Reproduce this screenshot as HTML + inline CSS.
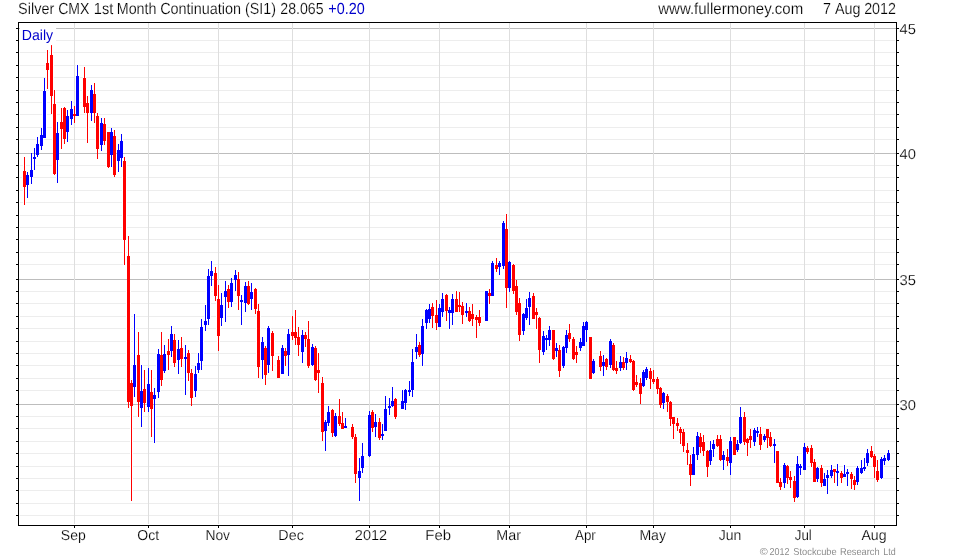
<!DOCTYPE html>
<html lang="en">
<head>
<meta charset="utf-8">
<title>Silver CMX 1st Month Continuation (SI1)</title>
<style>
html,body{margin:0;padding:0;background:#fff;}
body{width:980px;height:560px;position:relative;overflow:hidden;font-family:"Liberation Sans",Arial,sans-serif;color:#000;}
#chart{position:absolute;left:0;top:0;width:980px;height:560px;}
#labels{position:absolute;left:0;top:0;width:980px;height:560px;}
</style>
</head>
<body>
<svg id="chart" width="980" height="560" viewBox="0 0 980 560" shape-rendering="crispEdges">
<rect x="0" y="0" width="980" height="560" fill="#ffffff"/>
<g id="hgrid" fill="#ededed">
<rect x="20" y="40" width="875" height="1"/>
<rect x="20" y="52" width="875" height="1"/>
<rect x="20" y="65" width="875" height="1"/>
<rect x="20" y="77" width="875" height="1"/>
<rect x="20" y="90" width="875" height="1"/>
<rect x="20" y="102" width="875" height="1"/>
<rect x="20" y="114" width="875" height="1"/>
<rect x="20" y="127" width="875" height="1"/>
<rect x="20" y="139" width="875" height="1"/>
<rect x="20" y="165" width="875" height="1"/>
<rect x="20" y="177" width="875" height="1"/>
<rect x="20" y="190" width="875" height="1"/>
<rect x="20" y="202" width="875" height="1"/>
<rect x="20" y="215" width="875" height="1"/>
<rect x="20" y="227" width="875" height="1"/>
<rect x="20" y="239" width="875" height="1"/>
<rect x="20" y="252" width="875" height="1"/>
<rect x="20" y="264" width="875" height="1"/>
<rect x="20" y="291" width="875" height="1"/>
<rect x="20" y="303" width="875" height="1"/>
<rect x="20" y="316" width="875" height="1"/>
<rect x="20" y="328" width="875" height="1"/>
<rect x="20" y="341" width="875" height="1"/>
<rect x="20" y="353" width="875" height="1"/>
<rect x="20" y="365" width="875" height="1"/>
<rect x="20" y="378" width="875" height="1"/>
<rect x="20" y="390" width="875" height="1"/>
<rect x="20" y="416" width="875" height="1"/>
<rect x="20" y="428" width="875" height="1"/>
<rect x="20" y="441" width="875" height="1"/>
<rect x="20" y="453" width="875" height="1"/>
<rect x="20" y="466" width="875" height="1"/>
<rect x="20" y="478" width="875" height="1"/>
<rect x="20" y="490" width="875" height="1"/>
<rect x="20" y="503" width="875" height="1"/>
<rect x="20" y="515" width="875" height="1"/>
</g>
<g id="candles">
<g id="halo" fill="#ffffff">
<rect x="23" y="157" width="3" height="48"/><rect x="22" y="171" width="5" height="16"/>
<rect x="26" y="172" width="3" height="26"/><rect x="25" y="175" width="5" height="10"/>
<rect x="30" y="153" width="3" height="31"/><rect x="29" y="170" width="5" height="7"/>
<rect x="33" y="148" width="3" height="22"/><rect x="32" y="157" width="5" height="2"/>
<rect x="36" y="137" width="3" height="20"/><rect x="35" y="144" width="5" height="11"/>
<rect x="40" y="128" width="3" height="22"/><rect x="39" y="135" width="5" height="11"/>
<rect x="43" y="78" width="3" height="60"/><rect x="42" y="91" width="5" height="47"/>
<rect x="46" y="50" width="3" height="39"/><rect x="45" y="63" width="5" height="7"/>
<rect x="50" y="45" width="3" height="69"/><rect x="49" y="55" width="5" height="41"/>
<rect x="53" y="90" width="3" height="85"/><rect x="52" y="104" width="5" height="70"/>
<rect x="56" y="122" width="3" height="61"/><rect x="55" y="133" width="5" height="27"/>
<rect x="60" y="108" width="3" height="41"/><rect x="59" y="122" width="5" height="7"/>
<rect x="63" y="107" width="3" height="37"/><rect x="62" y="108" width="5" height="31"/>
<rect x="66" y="110" width="3" height="32"/><rect x="65" y="116" width="5" height="16"/>
<rect x="70" y="101" width="3" height="24"/><rect x="69" y="109" width="5" height="10"/>
<rect x="73" y="106" width="3" height="17"/><rect x="72" y="114" width="5" height="2"/>
<rect x="76" y="65" width="3" height="51"/><rect x="75" y="76" width="5" height="40"/>
<rect x="83" y="67" width="3" height="46"/><rect x="82" y="78" width="5" height="29"/>
<rect x="86" y="96" width="3" height="47"/><rect x="85" y="103" width="5" height="10"/>
<rect x="90" y="85" width="3" height="36"/><rect x="89" y="90" width="5" height="23"/>
<rect x="93" y="83" width="3" height="40"/><rect x="92" y="94" width="5" height="19"/>
<rect x="96" y="113" width="3" height="46"/><rect x="95" y="116" width="5" height="33"/>
<rect x="100" y="118" width="3" height="33"/><rect x="99" y="123" width="5" height="22"/>
<rect x="103" y="118" width="3" height="27"/><rect x="102" y="124" width="5" height="17"/>
<rect x="107" y="132" width="3" height="36"/><rect x="106" y="132" width="5" height="35"/>
<rect x="110" y="128" width="3" height="39"/><rect x="109" y="132" width="5" height="23"/>
<rect x="113" y="130" width="3" height="47"/><rect x="112" y="136" width="5" height="39"/>
<rect x="117" y="144" width="3" height="28"/><rect x="116" y="150" width="5" height="11"/>
<rect x="120" y="134" width="3" height="33"/><rect x="119" y="141" width="5" height="17"/>
<rect x="123" y="157" width="3" height="108"/><rect x="122" y="161" width="5" height="79"/>
<rect x="127" y="236" width="3" height="172"/><rect x="126" y="256" width="5" height="146"/>
<rect x="130" y="380" width="3" height="121"/><rect x="129" y="383" width="5" height="23"/>
<rect x="133" y="314" width="3" height="83"/><rect x="132" y="365" width="5" height="22"/>
<rect x="137" y="332" width="3" height="85"/><rect x="136" y="355" width="5" height="47"/>
<rect x="140" y="365" width="3" height="62"/><rect x="139" y="391" width="5" height="17"/>
<rect x="143" y="370" width="3" height="42"/><rect x="142" y="389" width="5" height="14"/>
<rect x="147" y="368" width="3" height="44"/><rect x="146" y="384" width="5" height="23"/>
<rect x="150" y="370" width="3" height="67"/><rect x="149" y="392" width="5" height="17"/>
<rect x="153" y="388" width="3" height="55"/><rect x="152" y="395" width="5" height="4"/>
<rect x="157" y="349" width="3" height="49"/><rect x="156" y="354" width="5" height="38"/>
<rect x="160" y="332" width="3" height="54"/><rect x="159" y="355" width="5" height="25"/>
<rect x="163" y="345" width="3" height="28"/><rect x="162" y="354" width="5" height="17"/>
<rect x="167" y="339" width="3" height="31"/><rect x="166" y="351" width="5" height="4"/>
<rect x="170" y="326" width="3" height="31"/><rect x="169" y="334" width="5" height="17"/>
<rect x="173" y="334" width="3" height="33"/><rect x="172" y="340" width="5" height="23"/>
<rect x="177" y="340" width="3" height="34"/><rect x="176" y="349" width="5" height="11"/>
<rect x="180" y="337" width="3" height="30"/><rect x="179" y="348" width="5" height="11"/>
<rect x="184" y="345" width="3" height="50"/><rect x="183" y="357" width="5" height="2"/>
<rect x="187" y="350" width="3" height="31"/><rect x="186" y="353" width="5" height="20"/>
<rect x="190" y="369" width="3" height="37"/><rect x="189" y="373" width="5" height="25"/>
<rect x="194" y="366" width="3" height="31"/><rect x="193" y="374" width="5" height="17"/>
<rect x="197" y="353" width="3" height="20"/><rect x="196" y="363" width="5" height="7"/>
<rect x="200" y="319" width="3" height="51"/><rect x="199" y="327" width="5" height="34"/>
<rect x="204" y="305" width="3" height="26"/><rect x="203" y="321" width="5" height="4"/>
<rect x="207" y="269" width="3" height="56"/><rect x="206" y="276" width="5" height="43"/>
<rect x="210" y="261" width="3" height="25"/><rect x="209" y="271" width="5" height="5"/>
<rect x="214" y="267" width="3" height="34"/><rect x="213" y="273" width="5" height="23"/>
<rect x="217" y="285" width="3" height="66"/><rect x="216" y="299" width="5" height="37"/>
<rect x="220" y="293" width="3" height="33"/><rect x="219" y="305" width="5" height="13"/>
<rect x="224" y="281" width="3" height="41"/><rect x="223" y="291" width="5" height="6"/>
<rect x="227" y="285" width="3" height="23"/><rect x="226" y="289" width="5" height="13"/>
<rect x="230" y="278" width="3" height="29"/><rect x="229" y="283" width="5" height="19"/>
<rect x="234" y="270" width="3" height="21"/><rect x="233" y="275" width="5" height="5"/>
<rect x="237" y="272" width="3" height="38"/><rect x="236" y="279" width="5" height="17"/>
<rect x="240" y="295" width="3" height="30"/><rect x="239" y="300" width="5" height="2"/>
<rect x="244" y="282" width="3" height="30"/><rect x="243" y="286" width="5" height="17"/>
<rect x="247" y="281" width="3" height="24"/><rect x="246" y="286" width="5" height="18"/>
<rect x="250" y="283" width="3" height="27"/><rect x="249" y="292" width="5" height="7"/>
<rect x="254" y="288" width="3" height="26"/><rect x="253" y="289" width="5" height="20"/>
<rect x="257" y="304" width="3" height="74"/><rect x="256" y="311" width="5" height="56"/>
<rect x="261" y="337" width="3" height="42"/><rect x="260" y="342" width="5" height="18"/>
<rect x="264" y="346" width="3" height="39"/><rect x="263" y="348" width="5" height="27"/>
<rect x="267" y="326" width="3" height="47"/><rect x="266" y="328" width="5" height="37"/>
<rect x="271" y="331" width="3" height="40"/><rect x="270" y="333" width="5" height="23"/>
<rect x="277" y="356" width="3" height="22"/><rect x="276" y="360" width="5" height="18"/>
<rect x="281" y="345" width="3" height="29"/><rect x="280" y="348" width="5" height="26"/>
<rect x="284" y="348" width="3" height="18"/><rect x="283" y="351" width="5" height="5"/>
<rect x="287" y="329" width="3" height="47"/><rect x="286" y="334" width="5" height="21"/>
<rect x="291" y="316" width="3" height="24"/><rect x="290" y="332" width="5" height="4"/>
<rect x="294" y="310" width="3" height="35"/><rect x="293" y="332" width="5" height="6"/>
<rect x="297" y="327" width="3" height="29"/><rect x="296" y="337" width="5" height="8"/>
<rect x="301" y="330" width="3" height="33"/><rect x="300" y="335" width="5" height="17"/>
<rect x="304" y="332" width="3" height="15"/><rect x="303" y="335" width="5" height="4"/>
<rect x="307" y="321" width="3" height="47"/><rect x="306" y="339" width="5" height="27"/>
<rect x="311" y="344" width="3" height="22"/><rect x="310" y="347" width="5" height="18"/>
<rect x="314" y="346" width="3" height="35"/><rect x="313" y="348" width="5" height="32"/>
<rect x="317" y="353" width="3" height="40"/><rect x="316" y="370" width="5" height="3"/>
<rect x="321" y="377" width="3" height="64"/><rect x="320" y="383" width="5" height="49"/>
<rect x="324" y="420" width="3" height="31"/><rect x="323" y="422" width="5" height="9"/>
<rect x="327" y="406" width="3" height="20"/><rect x="326" y="412" width="5" height="11"/>
<rect x="331" y="409" width="3" height="28"/><rect x="330" y="410" width="5" height="23"/>
<rect x="334" y="413" width="3" height="24"/><rect x="333" y="416" width="5" height="20"/>
<rect x="338" y="399" width="3" height="27"/><rect x="337" y="416" width="5" height="8"/>
<rect x="341" y="412" width="3" height="17"/><rect x="340" y="423" width="5" height="6"/>
<rect x="344" y="418" width="3" height="10"/><rect x="343" y="426" width="5" height="2"/>
<rect x="351" y="424" width="3" height="15"/><rect x="350" y="427" width="5" height="10"/>
<rect x="354" y="434" width="3" height="49"/><rect x="353" y="437" width="5" height="37"/>
<rect x="358" y="458" width="3" height="43"/><rect x="357" y="471" width="5" height="7"/>
<rect x="361" y="443" width="3" height="30"/><rect x="360" y="456" width="5" height="12"/>
<rect x="368" y="411" width="3" height="46"/><rect x="367" y="415" width="5" height="41"/>
<rect x="371" y="410" width="3" height="22"/><rect x="370" y="412" width="5" height="16"/>
<rect x="374" y="414" width="3" height="23"/><rect x="373" y="422" width="5" height="5"/>
<rect x="378" y="418" width="3" height="22"/><rect x="377" y="422" width="5" height="16"/>
<rect x="381" y="424" width="3" height="16"/><rect x="380" y="434" width="5" height="2"/>
<rect x="384" y="396" width="3" height="35"/><rect x="383" y="409" width="5" height="22"/>
<rect x="388" y="398" width="3" height="17"/><rect x="387" y="406" width="5" height="2"/>
<rect x="391" y="387" width="3" height="20"/><rect x="390" y="401" width="5" height="5"/>
<rect x="394" y="398" width="3" height="21"/><rect x="393" y="399" width="5" height="18"/>
<rect x="401" y="390" width="3" height="19"/><rect x="400" y="401" width="5" height="8"/>
<rect x="404" y="389" width="3" height="21"/><rect x="403" y="390" width="5" height="13"/>
<rect x="408" y="381" width="3" height="15"/><rect x="407" y="390" width="5" height="2"/>
<rect x="411" y="349" width="3" height="48"/><rect x="410" y="362" width="5" height="28"/>
<rect x="415" y="334" width="3" height="25"/><rect x="414" y="347" width="5" height="5"/>
<rect x="418" y="342" width="3" height="15"/><rect x="417" y="345" width="5" height="10"/>
<rect x="421" y="319" width="3" height="47"/><rect x="420" y="326" width="5" height="28"/>
<rect x="425" y="309" width="3" height="20"/><rect x="424" y="310" width="5" height="13"/>
<rect x="428" y="304" width="3" height="19"/><rect x="427" y="309" width="5" height="10"/>
<rect x="431" y="303" width="3" height="25"/><rect x="430" y="307" width="5" height="9"/>
<rect x="435" y="300" width="3" height="30"/><rect x="434" y="315" width="5" height="8"/>
<rect x="438" y="304" width="3" height="23"/><rect x="437" y="308" width="5" height="19"/>
<rect x="441" y="293" width="3" height="24"/><rect x="440" y="299" width="5" height="13"/>
<rect x="445" y="294" width="3" height="27"/><rect x="444" y="295" width="5" height="16"/>
<rect x="448" y="307" width="3" height="22"/><rect x="447" y="310" width="5" height="3"/>
<rect x="451" y="294" width="3" height="31"/><rect x="450" y="299" width="5" height="14"/>
<rect x="455" y="291" width="3" height="21"/><rect x="454" y="299" width="5" height="13"/>
<rect x="458" y="292" width="3" height="20"/><rect x="457" y="305" width="5" height="2"/>
<rect x="461" y="302" width="3" height="22"/><rect x="460" y="306" width="5" height="9"/>
<rect x="465" y="303" width="3" height="14"/><rect x="464" y="311" width="5" height="2"/>
<rect x="468" y="307" width="3" height="15"/><rect x="467" y="311" width="5" height="10"/>
<rect x="471" y="304" width="3" height="22"/><rect x="470" y="314" width="5" height="5"/>
<rect x="475" y="315" width="3" height="23"/><rect x="474" y="317" width="5" height="3"/>
<rect x="478" y="310" width="3" height="16"/><rect x="477" y="317" width="5" height="6"/>
<rect x="485" y="291" width="3" height="30"/><rect x="484" y="291" width="5" height="30"/>
<rect x="488" y="289" width="3" height="15"/><rect x="487" y="293" width="5" height="3"/>
<rect x="491" y="261" width="3" height="35"/><rect x="490" y="263" width="5" height="33"/>
<rect x="495" y="258" width="3" height="14"/><rect x="494" y="265" width="5" height="4"/>
<rect x="498" y="261" width="3" height="14"/><rect x="497" y="263" width="5" height="4"/>
<rect x="502" y="221" width="3" height="48"/><rect x="501" y="223" width="5" height="43"/>
<rect x="505" y="214" width="3" height="94"/><rect x="504" y="229" width="5" height="59"/>
<rect x="508" y="261" width="3" height="31"/><rect x="507" y="262" width="5" height="26"/>
<rect x="512" y="264" width="3" height="30"/><rect x="511" y="265" width="5" height="26"/>
<rect x="515" y="280" width="3" height="35"/><rect x="514" y="286" width="5" height="26"/>
<rect x="518" y="298" width="3" height="43"/><rect x="517" y="303" width="5" height="32"/>
<rect x="522" y="313" width="3" height="22"/><rect x="521" y="314" width="5" height="17"/>
<rect x="525" y="299" width="3" height="21"/><rect x="524" y="308" width="5" height="10"/>
<rect x="528" y="292" width="3" height="33"/><rect x="527" y="298" width="5" height="9"/>
<rect x="532" y="293" width="3" height="26"/><rect x="531" y="296" width="5" height="23"/>
<rect x="535" y="308" width="3" height="21"/><rect x="534" y="312" width="5" height="3"/>
<rect x="538" y="317" width="3" height="46"/><rect x="537" y="318" width="5" height="32"/>
<rect x="542" y="331" width="3" height="24"/><rect x="541" y="336" width="5" height="16"/>
<rect x="545" y="335" width="3" height="15"/><rect x="544" y="338" width="5" height="2"/>
<rect x="548" y="326" width="3" height="20"/><rect x="547" y="330" width="5" height="10"/>
<rect x="552" y="330" width="3" height="30"/><rect x="551" y="330" width="5" height="29"/>
<rect x="555" y="343" width="3" height="14"/><rect x="554" y="348" width="5" height="3"/>
<rect x="558" y="345" width="3" height="32"/><rect x="557" y="350" width="5" height="21"/>
<rect x="562" y="346" width="3" height="22"/><rect x="561" y="347" width="5" height="19"/>
<rect x="565" y="330" width="3" height="23"/><rect x="564" y="335" width="5" height="13"/>
<rect x="568" y="324" width="3" height="18"/><rect x="567" y="333" width="5" height="6"/>
<rect x="572" y="337" width="3" height="23"/><rect x="571" y="339" width="5" height="20"/>
<rect x="575" y="346" width="3" height="17"/><rect x="574" y="352" width="5" height="3"/>
<rect x="579" y="338" width="3" height="13"/><rect x="578" y="342" width="5" height="6"/>
<rect x="582" y="322" width="3" height="24"/><rect x="581" y="326" width="5" height="20"/>
<rect x="585" y="321" width="3" height="21"/><rect x="584" y="322" width="5" height="8"/>
<rect x="589" y="337" width="3" height="42"/><rect x="588" y="337" width="5" height="42"/>
<rect x="592" y="359" width="3" height="15"/><rect x="591" y="361" width="5" height="12"/>
<rect x="599" y="351" width="3" height="20"/><rect x="598" y="356" width="5" height="11"/>
<rect x="602" y="355" width="3" height="21"/><rect x="601" y="362" width="5" height="4"/>
<rect x="605" y="358" width="3" height="12"/><rect x="604" y="359" width="5" height="8"/>
<rect x="609" y="339" width="3" height="29"/><rect x="608" y="341" width="5" height="24"/>
<rect x="612" y="343" width="3" height="28"/><rect x="611" y="345" width="5" height="25"/>
<rect x="615" y="361" width="3" height="13"/><rect x="614" y="368" width="5" height="3"/>
<rect x="619" y="356" width="3" height="15"/><rect x="618" y="362" width="5" height="6"/>
<rect x="622" y="357" width="3" height="13"/><rect x="621" y="362" width="5" height="6"/>
<rect x="625" y="352" width="3" height="18"/><rect x="624" y="358" width="5" height="5"/>
<rect x="629" y="355" width="3" height="8"/><rect x="628" y="359" width="5" height="3"/>
<rect x="632" y="360" width="3" height="31"/><rect x="631" y="361" width="5" height="29"/>
<rect x="635" y="375" width="3" height="12"/><rect x="634" y="382" width="5" height="3"/>
<rect x="639" y="378" width="3" height="26"/><rect x="638" y="383" width="5" height="11"/>
<rect x="642" y="370" width="3" height="17"/><rect x="641" y="372" width="5" height="14"/>
<rect x="645" y="367" width="3" height="13"/><rect x="644" y="369" width="5" height="9"/>
<rect x="649" y="368" width="3" height="21"/><rect x="648" y="371" width="5" height="8"/>
<rect x="652" y="370" width="3" height="14"/><rect x="651" y="379" width="5" height="3"/>
<rect x="656" y="377" width="3" height="17"/><rect x="655" y="379" width="5" height="10"/>
<rect x="659" y="387" width="3" height="21"/><rect x="658" y="388" width="5" height="17"/>
<rect x="662" y="392" width="3" height="17"/><rect x="661" y="393" width="5" height="10"/>
<rect x="666" y="394" width="3" height="18"/><rect x="665" y="396" width="5" height="6"/>
<rect x="669" y="401" width="3" height="25"/><rect x="668" y="402" width="5" height="17"/>
<rect x="672" y="417" width="3" height="22"/><rect x="671" y="417" width="5" height="7"/>
<rect x="676" y="418" width="3" height="13"/><rect x="675" y="423" width="5" height="3"/>
<rect x="679" y="427" width="3" height="17"/><rect x="678" y="429" width="5" height="4"/>
<rect x="682" y="429" width="3" height="23"/><rect x="681" y="432" width="5" height="14"/>
<rect x="686" y="443" width="3" height="22"/><rect x="685" y="450" width="5" height="3"/>
<rect x="689" y="455" width="3" height="31"/><rect x="688" y="464" width="5" height="11"/>
<rect x="692" y="447" width="3" height="28"/><rect x="691" y="454" width="5" height="21"/>
<rect x="696" y="432" width="3" height="28"/><rect x="695" y="436" width="5" height="19"/>
<rect x="699" y="433" width="3" height="20"/><rect x="698" y="437" width="5" height="10"/>
<rect x="702" y="435" width="3" height="21"/><rect x="701" y="442" width="5" height="9"/>
<rect x="706" y="450" width="3" height="27"/><rect x="705" y="451" width="5" height="16"/>
<rect x="709" y="441" width="3" height="24"/><rect x="708" y="450" width="5" height="11"/>
<rect x="712" y="440" width="3" height="17"/><rect x="711" y="444" width="5" height="5"/>
<rect x="716" y="435" width="3" height="12"/><rect x="715" y="439" width="5" height="7"/>
<rect x="719" y="435" width="3" height="26"/><rect x="718" y="439" width="5" height="21"/>
<rect x="722" y="451" width="3" height="19"/><rect x="721" y="455" width="5" height="5"/>
<rect x="726" y="449" width="3" height="17"/><rect x="725" y="457" width="5" height="4"/>
<rect x="729" y="437" width="3" height="38"/><rect x="728" y="441" width="5" height="22"/>
<rect x="733" y="437" width="3" height="18"/><rect x="732" y="437" width="5" height="18"/>
<rect x="736" y="440" width="3" height="12"/><rect x="735" y="444" width="5" height="6"/>
<rect x="739" y="407" width="3" height="37"/><rect x="738" y="417" width="5" height="26"/>
<rect x="743" y="412" width="3" height="33"/><rect x="742" y="417" width="5" height="25"/>
<rect x="746" y="438" width="3" height="18"/><rect x="745" y="439" width="5" height="4"/>
<rect x="749" y="429" width="3" height="19"/><rect x="748" y="436" width="5" height="4"/>
<rect x="753" y="428" width="3" height="18"/><rect x="752" y="430" width="5" height="12"/>
<rect x="756" y="427" width="3" height="10"/><rect x="755" y="431" width="5" height="2"/>
<rect x="759" y="427" width="3" height="23"/><rect x="758" y="434" width="5" height="11"/>
<rect x="763" y="434" width="3" height="8"/><rect x="762" y="436" width="5" height="4"/>
<rect x="766" y="429" width="3" height="19"/><rect x="765" y="429" width="5" height="9"/>
<rect x="769" y="432" width="3" height="15"/><rect x="768" y="437" width="5" height="9"/>
<rect x="773" y="439" width="3" height="24"/><rect x="772" y="444" width="5" height="2"/>
<rect x="776" y="451" width="3" height="32"/><rect x="775" y="451" width="5" height="32"/>
<rect x="779" y="478" width="3" height="12"/><rect x="778" y="482" width="5" height="5"/>
<rect x="783" y="463" width="3" height="25"/><rect x="782" y="465" width="5" height="18"/>
<rect x="786" y="465" width="3" height="19"/><rect x="785" y="466" width="5" height="12"/>
<rect x="789" y="471" width="3" height="17"/><rect x="788" y="477" width="5" height="3"/>
<rect x="793" y="476" width="3" height="26"/><rect x="792" y="481" width="5" height="17"/>
<rect x="796" y="456" width="3" height="42"/><rect x="795" y="464" width="5" height="33"/>
<rect x="799" y="464" width="3" height="11"/><rect x="798" y="466" width="5" height="2"/>
<rect x="803" y="443" width="3" height="27"/><rect x="802" y="447" width="5" height="23"/>
<rect x="806" y="446" width="3" height="8"/><rect x="805" y="448" width="5" height="4"/>
<rect x="810" y="445" width="3" height="22"/><rect x="809" y="448" width="5" height="15"/>
<rect x="813" y="459" width="3" height="23"/><rect x="812" y="462" width="5" height="20"/>
<rect x="816" y="467" width="3" height="15"/><rect x="815" y="468" width="5" height="11"/>
<rect x="820" y="465" width="3" height="22"/><rect x="819" y="468" width="5" height="15"/>
<rect x="823" y="473" width="3" height="13"/><rect x="822" y="479" width="5" height="7"/>
<rect x="826" y="470" width="3" height="24"/><rect x="825" y="475" width="5" height="3"/>
<rect x="830" y="465" width="3" height="13"/><rect x="829" y="470" width="5" height="6"/>
<rect x="833" y="469" width="3" height="14"/><rect x="832" y="469" width="5" height="3"/>
<rect x="836" y="464" width="3" height="22"/><rect x="835" y="471" width="5" height="2"/>
<rect x="840" y="471" width="3" height="12"/><rect x="839" y="473" width="5" height="5"/>
<rect x="843" y="465" width="3" height="12"/><rect x="842" y="474" width="5" height="3"/>
<rect x="846" y="469" width="3" height="17"/><rect x="845" y="472" width="5" height="2"/>
<rect x="850" y="472" width="3" height="17"/><rect x="849" y="474" width="5" height="5"/>
<rect x="853" y="476" width="3" height="14"/><rect x="852" y="480" width="5" height="5"/>
<rect x="856" y="466" width="3" height="19"/><rect x="855" y="468" width="5" height="14"/>
<rect x="860" y="460" width="3" height="14"/><rect x="859" y="468" width="5" height="5"/>
<rect x="863" y="458" width="3" height="13"/><rect x="862" y="467" width="5" height="2"/>
<rect x="866" y="449" width="3" height="17"/><rect x="865" y="453" width="5" height="10"/>
<rect x="870" y="446" width="3" height="12"/><rect x="869" y="451" width="5" height="6"/>
<rect x="873" y="454" width="3" height="24"/><rect x="872" y="456" width="5" height="11"/>
<rect x="876" y="460" width="3" height="22"/><rect x="875" y="471" width="5" height="9"/>
<rect x="880" y="457" width="3" height="22"/><rect x="879" y="459" width="5" height="19"/>
<rect x="883" y="455" width="3" height="10"/><rect x="882" y="458" width="5" height="3"/>
<rect x="887" y="450" width="3" height="11"/><rect x="886" y="453" width="5" height="7"/>
</g>
<g id="hmajor" fill="#bdbdbd">
<rect x="19" y="28" width="877" height="1"/>
<rect x="19" y="153" width="877" height="1"/>
<rect x="19" y="279" width="877" height="1"/>
<rect x="19" y="404" width="877" height="1"/>
</g>
<g id="vgrid" fill="#dedede">
<rect x="74" y="23" width="1" height="501"/>
<rect x="148" y="23" width="1" height="501"/>
<rect x="218" y="23" width="1" height="501"/>
<rect x="292" y="23" width="1" height="501"/>
<rect x="369" y="23" width="1" height="501"/>
<rect x="439" y="23" width="1" height="501"/>
<rect x="509" y="23" width="1" height="501"/>
<rect x="586" y="23" width="1" height="501"/>
<rect x="653" y="23" width="1" height="501"/>
<rect x="730" y="23" width="1" height="501"/>
<rect x="804" y="23" width="1" height="501"/>
<rect x="874" y="23" width="1" height="501"/>
</g>
<rect x="24" y="157" width="1" height="48" fill="#ff0000"/><rect x="23" y="171" width="3" height="16" fill="#ff0000"/>
<rect x="27" y="172" width="1" height="26" fill="#0000ff"/><rect x="26" y="175" width="3" height="10" fill="#0000ff"/>
<rect x="31" y="153" width="1" height="31" fill="#0000ff"/><rect x="30" y="170" width="3" height="7" fill="#0000ff"/>
<rect x="34" y="148" width="1" height="22" fill="#0000ff"/><rect x="33" y="157" width="3" height="2" fill="#0000ff"/>
<rect x="37" y="137" width="1" height="20" fill="#0000ff"/><rect x="36" y="144" width="3" height="11" fill="#0000ff"/>
<rect x="41" y="128" width="1" height="22" fill="#0000ff"/><rect x="40" y="135" width="3" height="11" fill="#0000ff"/>
<rect x="44" y="78" width="1" height="60" fill="#0000ff"/><rect x="43" y="91" width="3" height="47" fill="#0000ff"/>
<rect x="47" y="50" width="1" height="39" fill="#ff0000"/><rect x="46" y="63" width="3" height="7" fill="#ff0000"/>
<rect x="51" y="45" width="1" height="69" fill="#ff0000"/><rect x="50" y="55" width="3" height="41" fill="#ff0000"/>
<rect x="54" y="90" width="1" height="85" fill="#ff0000"/><rect x="53" y="104" width="3" height="70" fill="#ff0000"/>
<rect x="57" y="122" width="1" height="61" fill="#0000ff"/><rect x="56" y="133" width="3" height="27" fill="#0000ff"/>
<rect x="61" y="108" width="1" height="41" fill="#ff0000"/><rect x="60" y="122" width="3" height="7" fill="#ff0000"/>
<rect x="64" y="107" width="1" height="37" fill="#ff0000"/><rect x="63" y="108" width="3" height="31" fill="#ff0000"/>
<rect x="67" y="110" width="1" height="32" fill="#0000ff"/><rect x="66" y="116" width="3" height="16" fill="#0000ff"/>
<rect x="71" y="101" width="1" height="24" fill="#0000ff"/><rect x="70" y="109" width="3" height="10" fill="#0000ff"/>
<rect x="74" y="106" width="1" height="17" fill="#ff0000"/><rect x="73" y="114" width="3" height="2" fill="#ff0000"/>
<rect x="77" y="65" width="1" height="51" fill="#0000ff"/><rect x="76" y="76" width="3" height="40" fill="#0000ff"/>
<rect x="84" y="67" width="1" height="46" fill="#ff0000"/><rect x="83" y="78" width="3" height="29" fill="#ff0000"/>
<rect x="87" y="96" width="1" height="47" fill="#ff0000"/><rect x="86" y="103" width="3" height="10" fill="#ff0000"/>
<rect x="91" y="85" width="1" height="36" fill="#0000ff"/><rect x="90" y="90" width="3" height="23" fill="#0000ff"/>
<rect x="94" y="83" width="1" height="40" fill="#ff0000"/><rect x="93" y="94" width="3" height="19" fill="#ff0000"/>
<rect x="97" y="113" width="1" height="46" fill="#ff0000"/><rect x="96" y="116" width="3" height="33" fill="#ff0000"/>
<rect x="101" y="118" width="1" height="33" fill="#0000ff"/><rect x="100" y="123" width="3" height="22" fill="#0000ff"/>
<rect x="104" y="118" width="1" height="27" fill="#ff0000"/><rect x="103" y="124" width="3" height="17" fill="#ff0000"/>
<rect x="108" y="132" width="1" height="36" fill="#ff0000"/><rect x="107" y="132" width="3" height="35" fill="#ff0000"/>
<rect x="111" y="128" width="1" height="39" fill="#0000ff"/><rect x="110" y="132" width="3" height="23" fill="#0000ff"/>
<rect x="114" y="130" width="1" height="47" fill="#ff0000"/><rect x="113" y="136" width="3" height="39" fill="#ff0000"/>
<rect x="118" y="144" width="1" height="28" fill="#0000ff"/><rect x="117" y="150" width="3" height="11" fill="#0000ff"/>
<rect x="121" y="134" width="1" height="33" fill="#0000ff"/><rect x="120" y="141" width="3" height="17" fill="#0000ff"/>
<rect x="124" y="157" width="1" height="108" fill="#ff0000"/><rect x="123" y="161" width="3" height="79" fill="#ff0000"/>
<rect x="128" y="236" width="1" height="172" fill="#ff0000"/><rect x="127" y="256" width="3" height="146" fill="#ff0000"/>
<rect x="131" y="380" width="1" height="121" fill="#ff0000"/><rect x="130" y="383" width="3" height="23" fill="#ff0000"/>
<rect x="134" y="314" width="1" height="83" fill="#0000ff"/><rect x="133" y="365" width="3" height="22" fill="#0000ff"/>
<rect x="138" y="332" width="1" height="85" fill="#ff0000"/><rect x="137" y="355" width="3" height="47" fill="#ff0000"/>
<rect x="141" y="365" width="1" height="62" fill="#0000ff"/><rect x="140" y="391" width="3" height="17" fill="#0000ff"/>
<rect x="144" y="370" width="1" height="42" fill="#ff0000"/><rect x="143" y="389" width="3" height="14" fill="#ff0000"/>
<rect x="148" y="368" width="1" height="44" fill="#0000ff"/><rect x="147" y="384" width="3" height="23" fill="#0000ff"/>
<rect x="151" y="370" width="1" height="67" fill="#ff0000"/><rect x="150" y="392" width="3" height="17" fill="#ff0000"/>
<rect x="154" y="388" width="1" height="55" fill="#0000ff"/><rect x="153" y="395" width="3" height="4" fill="#0000ff"/>
<rect x="158" y="349" width="1" height="49" fill="#0000ff"/><rect x="157" y="354" width="3" height="38" fill="#0000ff"/>
<rect x="161" y="332" width="1" height="54" fill="#ff0000"/><rect x="160" y="355" width="3" height="25" fill="#ff0000"/>
<rect x="164" y="345" width="1" height="28" fill="#0000ff"/><rect x="163" y="354" width="3" height="17" fill="#0000ff"/>
<rect x="168" y="339" width="1" height="31" fill="#ff0000"/><rect x="167" y="351" width="3" height="4" fill="#ff0000"/>
<rect x="171" y="326" width="1" height="31" fill="#0000ff"/><rect x="170" y="334" width="3" height="17" fill="#0000ff"/>
<rect x="174" y="334" width="1" height="33" fill="#ff0000"/><rect x="173" y="340" width="3" height="23" fill="#ff0000"/>
<rect x="178" y="340" width="1" height="34" fill="#0000ff"/><rect x="177" y="349" width="3" height="11" fill="#0000ff"/>
<rect x="181" y="337" width="1" height="30" fill="#ff0000"/><rect x="180" y="348" width="3" height="11" fill="#ff0000"/>
<rect x="185" y="345" width="1" height="50" fill="#0000ff"/><rect x="184" y="357" width="3" height="2" fill="#0000ff"/>
<rect x="188" y="350" width="1" height="31" fill="#ff0000"/><rect x="187" y="353" width="3" height="20" fill="#ff0000"/>
<rect x="191" y="369" width="1" height="37" fill="#ff0000"/><rect x="190" y="373" width="3" height="25" fill="#ff0000"/>
<rect x="195" y="366" width="1" height="31" fill="#0000ff"/><rect x="194" y="374" width="3" height="17" fill="#0000ff"/>
<rect x="198" y="353" width="1" height="20" fill="#0000ff"/><rect x="197" y="363" width="3" height="7" fill="#0000ff"/>
<rect x="201" y="319" width="1" height="51" fill="#0000ff"/><rect x="200" y="327" width="3" height="34" fill="#0000ff"/>
<rect x="205" y="305" width="1" height="26" fill="#0000ff"/><rect x="204" y="321" width="3" height="4" fill="#0000ff"/>
<rect x="208" y="269" width="1" height="56" fill="#0000ff"/><rect x="207" y="276" width="3" height="43" fill="#0000ff"/>
<rect x="211" y="261" width="1" height="25" fill="#0000ff"/><rect x="210" y="271" width="3" height="5" fill="#0000ff"/>
<rect x="215" y="267" width="1" height="34" fill="#ff0000"/><rect x="214" y="273" width="3" height="23" fill="#ff0000"/>
<rect x="218" y="285" width="1" height="66" fill="#ff0000"/><rect x="217" y="299" width="3" height="37" fill="#ff0000"/>
<rect x="221" y="293" width="1" height="33" fill="#0000ff"/><rect x="220" y="305" width="3" height="13" fill="#0000ff"/>
<rect x="225" y="281" width="1" height="41" fill="#0000ff"/><rect x="224" y="291" width="3" height="6" fill="#0000ff"/>
<rect x="228" y="285" width="1" height="23" fill="#ff0000"/><rect x="227" y="289" width="3" height="13" fill="#ff0000"/>
<rect x="231" y="278" width="1" height="29" fill="#0000ff"/><rect x="230" y="283" width="3" height="19" fill="#0000ff"/>
<rect x="235" y="270" width="1" height="21" fill="#0000ff"/><rect x="234" y="275" width="3" height="5" fill="#0000ff"/>
<rect x="238" y="272" width="1" height="38" fill="#ff0000"/><rect x="237" y="279" width="3" height="17" fill="#ff0000"/>
<rect x="241" y="295" width="1" height="30" fill="#0000ff"/><rect x="240" y="300" width="3" height="2" fill="#0000ff"/>
<rect x="245" y="282" width="1" height="30" fill="#0000ff"/><rect x="244" y="286" width="3" height="17" fill="#0000ff"/>
<rect x="248" y="281" width="1" height="24" fill="#ff0000"/><rect x="247" y="286" width="3" height="18" fill="#ff0000"/>
<rect x="251" y="283" width="1" height="27" fill="#0000ff"/><rect x="250" y="292" width="3" height="7" fill="#0000ff"/>
<rect x="255" y="288" width="1" height="26" fill="#ff0000"/><rect x="254" y="289" width="3" height="20" fill="#ff0000"/>
<rect x="258" y="304" width="1" height="74" fill="#ff0000"/><rect x="257" y="311" width="3" height="56" fill="#ff0000"/>
<rect x="262" y="337" width="1" height="42" fill="#0000ff"/><rect x="261" y="342" width="3" height="18" fill="#0000ff"/>
<rect x="265" y="346" width="1" height="39" fill="#ff0000"/><rect x="264" y="348" width="3" height="27" fill="#ff0000"/>
<rect x="268" y="326" width="1" height="47" fill="#0000ff"/><rect x="267" y="328" width="3" height="37" fill="#0000ff"/>
<rect x="272" y="331" width="1" height="40" fill="#ff0000"/><rect x="271" y="333" width="3" height="23" fill="#ff0000"/>
<rect x="278" y="356" width="1" height="22" fill="#ff0000"/><rect x="277" y="360" width="3" height="18" fill="#ff0000"/>
<rect x="282" y="345" width="1" height="29" fill="#0000ff"/><rect x="281" y="348" width="3" height="26" fill="#0000ff"/>
<rect x="285" y="348" width="1" height="18" fill="#ff0000"/><rect x="284" y="351" width="3" height="5" fill="#ff0000"/>
<rect x="288" y="329" width="1" height="47" fill="#0000ff"/><rect x="287" y="334" width="3" height="21" fill="#0000ff"/>
<rect x="292" y="316" width="1" height="24" fill="#ff0000"/><rect x="291" y="332" width="3" height="4" fill="#ff0000"/>
<rect x="295" y="310" width="1" height="35" fill="#ff0000"/><rect x="294" y="332" width="3" height="6" fill="#ff0000"/>
<rect x="298" y="327" width="1" height="29" fill="#ff0000"/><rect x="297" y="337" width="3" height="8" fill="#ff0000"/>
<rect x="302" y="330" width="1" height="33" fill="#0000ff"/><rect x="301" y="335" width="3" height="17" fill="#0000ff"/>
<rect x="305" y="332" width="1" height="15" fill="#ff0000"/><rect x="304" y="335" width="3" height="4" fill="#ff0000"/>
<rect x="308" y="321" width="1" height="47" fill="#ff0000"/><rect x="307" y="339" width="3" height="27" fill="#ff0000"/>
<rect x="312" y="344" width="1" height="22" fill="#0000ff"/><rect x="311" y="347" width="3" height="18" fill="#0000ff"/>
<rect x="315" y="346" width="1" height="35" fill="#ff0000"/><rect x="314" y="348" width="3" height="32" fill="#ff0000"/>
<rect x="318" y="353" width="1" height="40" fill="#ff0000"/><rect x="317" y="370" width="3" height="3" fill="#ff0000"/>
<rect x="322" y="377" width="1" height="64" fill="#ff0000"/><rect x="321" y="383" width="3" height="49" fill="#ff0000"/>
<rect x="325" y="420" width="1" height="31" fill="#0000ff"/><rect x="324" y="422" width="3" height="9" fill="#0000ff"/>
<rect x="328" y="406" width="1" height="20" fill="#0000ff"/><rect x="327" y="412" width="3" height="11" fill="#0000ff"/>
<rect x="332" y="409" width="1" height="28" fill="#ff0000"/><rect x="331" y="410" width="3" height="23" fill="#ff0000"/>
<rect x="335" y="413" width="1" height="24" fill="#0000ff"/><rect x="334" y="416" width="3" height="20" fill="#0000ff"/>
<rect x="339" y="399" width="1" height="27" fill="#ff0000"/><rect x="338" y="416" width="3" height="8" fill="#ff0000"/>
<rect x="342" y="412" width="1" height="17" fill="#ff0000"/><rect x="341" y="423" width="3" height="6" fill="#ff0000"/>
<rect x="345" y="418" width="1" height="10" fill="#0000ff"/><rect x="344" y="426" width="3" height="2" fill="#0000ff"/>
<rect x="352" y="424" width="1" height="15" fill="#ff0000"/><rect x="351" y="427" width="3" height="10" fill="#ff0000"/>
<rect x="355" y="434" width="1" height="49" fill="#ff0000"/><rect x="354" y="437" width="3" height="37" fill="#ff0000"/>
<rect x="359" y="458" width="1" height="43" fill="#0000ff"/><rect x="358" y="471" width="3" height="7" fill="#0000ff"/>
<rect x="362" y="443" width="1" height="30" fill="#0000ff"/><rect x="361" y="456" width="3" height="12" fill="#0000ff"/>
<rect x="369" y="411" width="1" height="46" fill="#0000ff"/><rect x="368" y="415" width="3" height="41" fill="#0000ff"/>
<rect x="372" y="410" width="1" height="22" fill="#ff0000"/><rect x="371" y="412" width="3" height="16" fill="#ff0000"/>
<rect x="375" y="414" width="1" height="23" fill="#0000ff"/><rect x="374" y="422" width="3" height="5" fill="#0000ff"/>
<rect x="379" y="418" width="1" height="22" fill="#ff0000"/><rect x="378" y="422" width="3" height="16" fill="#ff0000"/>
<rect x="382" y="424" width="1" height="16" fill="#0000ff"/><rect x="381" y="434" width="3" height="2" fill="#0000ff"/>
<rect x="385" y="396" width="1" height="35" fill="#0000ff"/><rect x="384" y="409" width="3" height="22" fill="#0000ff"/>
<rect x="389" y="398" width="1" height="17" fill="#0000ff"/><rect x="388" y="406" width="3" height="2" fill="#0000ff"/>
<rect x="392" y="387" width="1" height="20" fill="#0000ff"/><rect x="391" y="401" width="3" height="5" fill="#0000ff"/>
<rect x="395" y="398" width="1" height="21" fill="#ff0000"/><rect x="394" y="399" width="3" height="18" fill="#ff0000"/>
<rect x="402" y="390" width="1" height="19" fill="#0000ff"/><rect x="401" y="401" width="3" height="8" fill="#0000ff"/>
<rect x="405" y="389" width="1" height="21" fill="#0000ff"/><rect x="404" y="390" width="3" height="13" fill="#0000ff"/>
<rect x="409" y="381" width="1" height="15" fill="#0000ff"/><rect x="408" y="390" width="3" height="2" fill="#0000ff"/>
<rect x="412" y="349" width="1" height="48" fill="#0000ff"/><rect x="411" y="362" width="3" height="28" fill="#0000ff"/>
<rect x="416" y="334" width="1" height="25" fill="#0000ff"/><rect x="415" y="347" width="3" height="5" fill="#0000ff"/>
<rect x="419" y="342" width="1" height="15" fill="#ff0000"/><rect x="418" y="345" width="3" height="10" fill="#ff0000"/>
<rect x="422" y="319" width="1" height="47" fill="#0000ff"/><rect x="421" y="326" width="3" height="28" fill="#0000ff"/>
<rect x="426" y="309" width="1" height="20" fill="#0000ff"/><rect x="425" y="310" width="3" height="13" fill="#0000ff"/>
<rect x="429" y="304" width="1" height="19" fill="#0000ff"/><rect x="428" y="309" width="3" height="10" fill="#0000ff"/>
<rect x="432" y="303" width="1" height="25" fill="#ff0000"/><rect x="431" y="307" width="3" height="9" fill="#ff0000"/>
<rect x="436" y="300" width="1" height="30" fill="#ff0000"/><rect x="435" y="315" width="3" height="8" fill="#ff0000"/>
<rect x="439" y="304" width="1" height="23" fill="#0000ff"/><rect x="438" y="308" width="3" height="19" fill="#0000ff"/>
<rect x="442" y="293" width="1" height="24" fill="#0000ff"/><rect x="441" y="299" width="3" height="13" fill="#0000ff"/>
<rect x="446" y="294" width="1" height="27" fill="#ff0000"/><rect x="445" y="295" width="3" height="16" fill="#ff0000"/>
<rect x="449" y="307" width="1" height="22" fill="#0000ff"/><rect x="448" y="310" width="3" height="3" fill="#0000ff"/>
<rect x="452" y="294" width="1" height="31" fill="#0000ff"/><rect x="451" y="299" width="3" height="14" fill="#0000ff"/>
<rect x="456" y="291" width="1" height="21" fill="#ff0000"/><rect x="455" y="299" width="3" height="13" fill="#ff0000"/>
<rect x="459" y="292" width="1" height="20" fill="#ff0000"/><rect x="458" y="305" width="3" height="2" fill="#ff0000"/>
<rect x="462" y="302" width="1" height="22" fill="#ff0000"/><rect x="461" y="306" width="3" height="9" fill="#ff0000"/>
<rect x="466" y="303" width="1" height="14" fill="#0000ff"/><rect x="465" y="311" width="3" height="2" fill="#0000ff"/>
<rect x="469" y="307" width="1" height="15" fill="#ff0000"/><rect x="468" y="311" width="3" height="10" fill="#ff0000"/>
<rect x="472" y="304" width="1" height="22" fill="#ff0000"/><rect x="471" y="314" width="3" height="5" fill="#ff0000"/>
<rect x="476" y="315" width="1" height="23" fill="#ff0000"/><rect x="475" y="317" width="3" height="3" fill="#ff0000"/>
<rect x="479" y="310" width="1" height="16" fill="#ff0000"/><rect x="478" y="317" width="3" height="6" fill="#ff0000"/>
<rect x="486" y="291" width="1" height="30" fill="#0000ff"/><rect x="485" y="291" width="3" height="30" fill="#0000ff"/>
<rect x="489" y="289" width="1" height="15" fill="#ff0000"/><rect x="488" y="293" width="3" height="3" fill="#ff0000"/>
<rect x="492" y="261" width="1" height="35" fill="#0000ff"/><rect x="491" y="263" width="3" height="33" fill="#0000ff"/>
<rect x="496" y="258" width="1" height="14" fill="#ff0000"/><rect x="495" y="265" width="3" height="4" fill="#ff0000"/>
<rect x="499" y="261" width="1" height="14" fill="#0000ff"/><rect x="498" y="263" width="3" height="4" fill="#0000ff"/>
<rect x="503" y="221" width="1" height="48" fill="#0000ff"/><rect x="502" y="223" width="3" height="43" fill="#0000ff"/>
<rect x="506" y="214" width="1" height="94" fill="#ff0000"/><rect x="505" y="229" width="3" height="59" fill="#ff0000"/>
<rect x="509" y="261" width="1" height="31" fill="#0000ff"/><rect x="508" y="262" width="3" height="26" fill="#0000ff"/>
<rect x="513" y="264" width="1" height="30" fill="#ff0000"/><rect x="512" y="265" width="3" height="26" fill="#ff0000"/>
<rect x="516" y="280" width="1" height="35" fill="#ff0000"/><rect x="515" y="286" width="3" height="26" fill="#ff0000"/>
<rect x="519" y="298" width="1" height="43" fill="#ff0000"/><rect x="518" y="303" width="3" height="32" fill="#ff0000"/>
<rect x="523" y="313" width="1" height="22" fill="#0000ff"/><rect x="522" y="314" width="3" height="17" fill="#0000ff"/>
<rect x="526" y="299" width="1" height="21" fill="#0000ff"/><rect x="525" y="308" width="3" height="10" fill="#0000ff"/>
<rect x="529" y="292" width="1" height="33" fill="#0000ff"/><rect x="528" y="298" width="3" height="9" fill="#0000ff"/>
<rect x="533" y="293" width="1" height="26" fill="#ff0000"/><rect x="532" y="296" width="3" height="23" fill="#ff0000"/>
<rect x="536" y="308" width="1" height="21" fill="#ff0000"/><rect x="535" y="312" width="3" height="3" fill="#ff0000"/>
<rect x="539" y="317" width="1" height="46" fill="#ff0000"/><rect x="538" y="318" width="3" height="32" fill="#ff0000"/>
<rect x="543" y="331" width="1" height="24" fill="#0000ff"/><rect x="542" y="336" width="3" height="16" fill="#0000ff"/>
<rect x="546" y="335" width="1" height="15" fill="#0000ff"/><rect x="545" y="338" width="3" height="2" fill="#0000ff"/>
<rect x="549" y="326" width="1" height="20" fill="#0000ff"/><rect x="548" y="330" width="3" height="10" fill="#0000ff"/>
<rect x="553" y="330" width="1" height="30" fill="#ff0000"/><rect x="552" y="330" width="3" height="29" fill="#ff0000"/>
<rect x="556" y="343" width="1" height="14" fill="#0000ff"/><rect x="555" y="348" width="3" height="3" fill="#0000ff"/>
<rect x="559" y="345" width="1" height="32" fill="#ff0000"/><rect x="558" y="350" width="3" height="21" fill="#ff0000"/>
<rect x="563" y="346" width="1" height="22" fill="#0000ff"/><rect x="562" y="347" width="3" height="19" fill="#0000ff"/>
<rect x="566" y="330" width="1" height="23" fill="#0000ff"/><rect x="565" y="335" width="3" height="13" fill="#0000ff"/>
<rect x="569" y="324" width="1" height="18" fill="#ff0000"/><rect x="568" y="333" width="3" height="6" fill="#ff0000"/>
<rect x="573" y="337" width="1" height="23" fill="#ff0000"/><rect x="572" y="339" width="3" height="20" fill="#ff0000"/>
<rect x="576" y="346" width="1" height="17" fill="#ff0000"/><rect x="575" y="352" width="3" height="3" fill="#ff0000"/>
<rect x="580" y="338" width="1" height="13" fill="#0000ff"/><rect x="579" y="342" width="3" height="6" fill="#0000ff"/>
<rect x="583" y="322" width="1" height="24" fill="#0000ff"/><rect x="582" y="326" width="3" height="20" fill="#0000ff"/>
<rect x="586" y="321" width="1" height="21" fill="#0000ff"/><rect x="585" y="322" width="3" height="8" fill="#0000ff"/>
<rect x="590" y="337" width="1" height="42" fill="#ff0000"/><rect x="589" y="337" width="3" height="42" fill="#ff0000"/>
<rect x="593" y="359" width="1" height="15" fill="#0000ff"/><rect x="592" y="361" width="3" height="12" fill="#0000ff"/>
<rect x="600" y="351" width="1" height="20" fill="#ff0000"/><rect x="599" y="356" width="3" height="11" fill="#ff0000"/>
<rect x="603" y="355" width="1" height="21" fill="#0000ff"/><rect x="602" y="362" width="3" height="4" fill="#0000ff"/>
<rect x="606" y="358" width="1" height="12" fill="#ff0000"/><rect x="605" y="359" width="3" height="8" fill="#ff0000"/>
<rect x="610" y="339" width="1" height="29" fill="#0000ff"/><rect x="609" y="341" width="3" height="24" fill="#0000ff"/>
<rect x="613" y="343" width="1" height="28" fill="#ff0000"/><rect x="612" y="345" width="3" height="25" fill="#ff0000"/>
<rect x="616" y="361" width="1" height="13" fill="#ff0000"/><rect x="615" y="368" width="3" height="3" fill="#ff0000"/>
<rect x="620" y="356" width="1" height="15" fill="#0000ff"/><rect x="619" y="362" width="3" height="6" fill="#0000ff"/>
<rect x="623" y="357" width="1" height="13" fill="#ff0000"/><rect x="622" y="362" width="3" height="6" fill="#ff0000"/>
<rect x="626" y="352" width="1" height="18" fill="#0000ff"/><rect x="625" y="358" width="3" height="5" fill="#0000ff"/>
<rect x="630" y="355" width="1" height="8" fill="#ff0000"/><rect x="629" y="359" width="3" height="3" fill="#ff0000"/>
<rect x="633" y="360" width="1" height="31" fill="#ff0000"/><rect x="632" y="361" width="3" height="29" fill="#ff0000"/>
<rect x="636" y="375" width="1" height="12" fill="#ff0000"/><rect x="635" y="382" width="3" height="3" fill="#ff0000"/>
<rect x="640" y="378" width="1" height="26" fill="#ff0000"/><rect x="639" y="383" width="3" height="11" fill="#ff0000"/>
<rect x="643" y="370" width="1" height="17" fill="#0000ff"/><rect x="642" y="372" width="3" height="14" fill="#0000ff"/>
<rect x="646" y="367" width="1" height="13" fill="#0000ff"/><rect x="645" y="369" width="3" height="9" fill="#0000ff"/>
<rect x="650" y="368" width="1" height="21" fill="#ff0000"/><rect x="649" y="371" width="3" height="8" fill="#ff0000"/>
<rect x="653" y="370" width="1" height="14" fill="#ff0000"/><rect x="652" y="379" width="3" height="3" fill="#ff0000"/>
<rect x="657" y="377" width="1" height="17" fill="#ff0000"/><rect x="656" y="379" width="3" height="10" fill="#ff0000"/>
<rect x="660" y="387" width="1" height="21" fill="#ff0000"/><rect x="659" y="388" width="3" height="17" fill="#ff0000"/>
<rect x="663" y="392" width="1" height="17" fill="#0000ff"/><rect x="662" y="393" width="3" height="10" fill="#0000ff"/>
<rect x="667" y="394" width="1" height="18" fill="#ff0000"/><rect x="666" y="396" width="3" height="6" fill="#ff0000"/>
<rect x="670" y="401" width="1" height="25" fill="#ff0000"/><rect x="669" y="402" width="3" height="17" fill="#ff0000"/>
<rect x="673" y="417" width="1" height="22" fill="#ff0000"/><rect x="672" y="417" width="3" height="7" fill="#ff0000"/>
<rect x="677" y="418" width="1" height="13" fill="#ff0000"/><rect x="676" y="423" width="3" height="3" fill="#ff0000"/>
<rect x="680" y="427" width="1" height="17" fill="#ff0000"/><rect x="679" y="429" width="3" height="4" fill="#ff0000"/>
<rect x="683" y="429" width="1" height="23" fill="#ff0000"/><rect x="682" y="432" width="3" height="14" fill="#ff0000"/>
<rect x="687" y="443" width="1" height="22" fill="#ff0000"/><rect x="686" y="450" width="3" height="3" fill="#ff0000"/>
<rect x="690" y="455" width="1" height="31" fill="#ff0000"/><rect x="689" y="464" width="3" height="11" fill="#ff0000"/>
<rect x="693" y="447" width="1" height="28" fill="#0000ff"/><rect x="692" y="454" width="3" height="21" fill="#0000ff"/>
<rect x="697" y="432" width="1" height="28" fill="#0000ff"/><rect x="696" y="436" width="3" height="19" fill="#0000ff"/>
<rect x="700" y="433" width="1" height="20" fill="#ff0000"/><rect x="699" y="437" width="3" height="10" fill="#ff0000"/>
<rect x="703" y="435" width="1" height="21" fill="#ff0000"/><rect x="702" y="442" width="3" height="9" fill="#ff0000"/>
<rect x="707" y="450" width="1" height="27" fill="#ff0000"/><rect x="706" y="451" width="3" height="16" fill="#ff0000"/>
<rect x="710" y="441" width="1" height="24" fill="#0000ff"/><rect x="709" y="450" width="3" height="11" fill="#0000ff"/>
<rect x="713" y="440" width="1" height="17" fill="#0000ff"/><rect x="712" y="444" width="3" height="5" fill="#0000ff"/>
<rect x="717" y="435" width="1" height="12" fill="#ff0000"/><rect x="716" y="439" width="3" height="7" fill="#ff0000"/>
<rect x="720" y="435" width="1" height="26" fill="#ff0000"/><rect x="719" y="439" width="3" height="21" fill="#ff0000"/>
<rect x="723" y="451" width="1" height="19" fill="#0000ff"/><rect x="722" y="455" width="3" height="5" fill="#0000ff"/>
<rect x="727" y="449" width="1" height="17" fill="#ff0000"/><rect x="726" y="457" width="3" height="4" fill="#ff0000"/>
<rect x="730" y="437" width="1" height="38" fill="#0000ff"/><rect x="729" y="441" width="3" height="22" fill="#0000ff"/>
<rect x="734" y="437" width="1" height="18" fill="#ff0000"/><rect x="733" y="437" width="3" height="18" fill="#ff0000"/>
<rect x="737" y="440" width="1" height="12" fill="#0000ff"/><rect x="736" y="444" width="3" height="6" fill="#0000ff"/>
<rect x="740" y="407" width="1" height="37" fill="#0000ff"/><rect x="739" y="417" width="3" height="26" fill="#0000ff"/>
<rect x="744" y="412" width="1" height="33" fill="#ff0000"/><rect x="743" y="417" width="3" height="25" fill="#ff0000"/>
<rect x="747" y="438" width="1" height="18" fill="#ff0000"/><rect x="746" y="439" width="3" height="4" fill="#ff0000"/>
<rect x="750" y="429" width="1" height="19" fill="#ff0000"/><rect x="749" y="436" width="3" height="4" fill="#ff0000"/>
<rect x="754" y="428" width="1" height="18" fill="#0000ff"/><rect x="753" y="430" width="3" height="12" fill="#0000ff"/>
<rect x="757" y="427" width="1" height="10" fill="#0000ff"/><rect x="756" y="431" width="3" height="2" fill="#0000ff"/>
<rect x="760" y="427" width="1" height="23" fill="#ff0000"/><rect x="759" y="434" width="3" height="11" fill="#ff0000"/>
<rect x="764" y="434" width="1" height="8" fill="#0000ff"/><rect x="763" y="436" width="3" height="4" fill="#0000ff"/>
<rect x="767" y="429" width="1" height="19" fill="#ff0000"/><rect x="766" y="429" width="3" height="9" fill="#ff0000"/>
<rect x="770" y="432" width="1" height="15" fill="#ff0000"/><rect x="769" y="437" width="3" height="9" fill="#ff0000"/>
<rect x="774" y="439" width="1" height="24" fill="#0000ff"/><rect x="773" y="444" width="3" height="2" fill="#0000ff"/>
<rect x="777" y="451" width="1" height="32" fill="#ff0000"/><rect x="776" y="451" width="3" height="32" fill="#ff0000"/>
<rect x="780" y="478" width="1" height="12" fill="#ff0000"/><rect x="779" y="482" width="3" height="5" fill="#ff0000"/>
<rect x="784" y="463" width="1" height="25" fill="#0000ff"/><rect x="783" y="465" width="3" height="18" fill="#0000ff"/>
<rect x="787" y="465" width="1" height="19" fill="#ff0000"/><rect x="786" y="466" width="3" height="12" fill="#ff0000"/>
<rect x="790" y="471" width="1" height="17" fill="#ff0000"/><rect x="789" y="477" width="3" height="3" fill="#ff0000"/>
<rect x="794" y="476" width="1" height="26" fill="#ff0000"/><rect x="793" y="481" width="3" height="17" fill="#ff0000"/>
<rect x="797" y="456" width="1" height="42" fill="#0000ff"/><rect x="796" y="464" width="3" height="33" fill="#0000ff"/>
<rect x="800" y="464" width="1" height="11" fill="#0000ff"/><rect x="799" y="466" width="3" height="2" fill="#0000ff"/>
<rect x="804" y="443" width="1" height="27" fill="#0000ff"/><rect x="803" y="447" width="3" height="23" fill="#0000ff"/>
<rect x="807" y="446" width="1" height="8" fill="#ff0000"/><rect x="806" y="448" width="3" height="4" fill="#ff0000"/>
<rect x="811" y="445" width="1" height="22" fill="#ff0000"/><rect x="810" y="448" width="3" height="15" fill="#ff0000"/>
<rect x="814" y="459" width="1" height="23" fill="#ff0000"/><rect x="813" y="462" width="3" height="20" fill="#ff0000"/>
<rect x="817" y="467" width="1" height="15" fill="#0000ff"/><rect x="816" y="468" width="3" height="11" fill="#0000ff"/>
<rect x="821" y="465" width="1" height="22" fill="#ff0000"/><rect x="820" y="468" width="3" height="15" fill="#ff0000"/>
<rect x="824" y="473" width="1" height="13" fill="#0000ff"/><rect x="823" y="479" width="3" height="7" fill="#0000ff"/>
<rect x="827" y="470" width="1" height="24" fill="#0000ff"/><rect x="826" y="475" width="3" height="3" fill="#0000ff"/>
<rect x="831" y="465" width="1" height="13" fill="#0000ff"/><rect x="830" y="470" width="3" height="6" fill="#0000ff"/>
<rect x="834" y="469" width="1" height="14" fill="#ff0000"/><rect x="833" y="469" width="3" height="3" fill="#ff0000"/>
<rect x="837" y="464" width="1" height="22" fill="#0000ff"/><rect x="836" y="471" width="3" height="2" fill="#0000ff"/>
<rect x="841" y="471" width="1" height="12" fill="#ff0000"/><rect x="840" y="473" width="3" height="5" fill="#ff0000"/>
<rect x="844" y="465" width="1" height="12" fill="#0000ff"/><rect x="843" y="474" width="3" height="3" fill="#0000ff"/>
<rect x="847" y="469" width="1" height="17" fill="#0000ff"/><rect x="846" y="472" width="3" height="2" fill="#0000ff"/>
<rect x="851" y="472" width="1" height="17" fill="#ff0000"/><rect x="850" y="474" width="3" height="5" fill="#ff0000"/>
<rect x="854" y="476" width="1" height="14" fill="#ff0000"/><rect x="853" y="480" width="3" height="5" fill="#ff0000"/>
<rect x="857" y="466" width="1" height="19" fill="#0000ff"/><rect x="856" y="468" width="3" height="14" fill="#0000ff"/>
<rect x="861" y="460" width="1" height="14" fill="#0000ff"/><rect x="860" y="468" width="3" height="5" fill="#0000ff"/>
<rect x="864" y="458" width="1" height="13" fill="#0000ff"/><rect x="863" y="467" width="3" height="2" fill="#0000ff"/>
<rect x="867" y="449" width="1" height="17" fill="#0000ff"/><rect x="866" y="453" width="3" height="10" fill="#0000ff"/>
<rect x="871" y="446" width="1" height="12" fill="#ff0000"/><rect x="870" y="451" width="3" height="6" fill="#ff0000"/>
<rect x="874" y="454" width="1" height="24" fill="#ff0000"/><rect x="873" y="456" width="3" height="11" fill="#ff0000"/>
<rect x="877" y="460" width="1" height="22" fill="#ff0000"/><rect x="876" y="471" width="3" height="9" fill="#ff0000"/>
<rect x="881" y="457" width="1" height="22" fill="#0000ff"/><rect x="880" y="459" width="3" height="19" fill="#0000ff"/>
<rect x="884" y="455" width="1" height="10" fill="#0000ff"/><rect x="883" y="458" width="3" height="3" fill="#0000ff"/>
<rect x="888" y="450" width="1" height="11" fill="#0000ff"/><rect x="887" y="453" width="3" height="7" fill="#0000ff"/>
</g>
<g id="frame" fill="#000000">
<rect x="18" y="22" width="879" height="1"/>
<rect x="18" y="525" width="879" height="1"/>
<rect x="18" y="22" width="1" height="504"/>
<rect x="896" y="22" width="1" height="504"/>
<rect x="16" y="28" width="2" height="1"/><rect x="897" y="28" width="2" height="1"/>
<rect x="16" y="40" width="2" height="1"/><rect x="897" y="40" width="2" height="1"/>
<rect x="16" y="52" width="2" height="1"/><rect x="897" y="52" width="2" height="1"/>
<rect x="16" y="65" width="2" height="1"/><rect x="897" y="65" width="2" height="1"/>
<rect x="16" y="77" width="2" height="1"/><rect x="897" y="77" width="2" height="1"/>
<rect x="16" y="90" width="2" height="1"/><rect x="897" y="90" width="2" height="1"/>
<rect x="16" y="102" width="2" height="1"/><rect x="897" y="102" width="2" height="1"/>
<rect x="16" y="114" width="2" height="1"/><rect x="897" y="114" width="2" height="1"/>
<rect x="16" y="127" width="2" height="1"/><rect x="897" y="127" width="2" height="1"/>
<rect x="16" y="139" width="2" height="1"/><rect x="897" y="139" width="2" height="1"/>
<rect x="16" y="153" width="2" height="1"/><rect x="897" y="153" width="2" height="1"/>
<rect x="16" y="165" width="2" height="1"/><rect x="897" y="165" width="2" height="1"/>
<rect x="16" y="177" width="2" height="1"/><rect x="897" y="177" width="2" height="1"/>
<rect x="16" y="190" width="2" height="1"/><rect x="897" y="190" width="2" height="1"/>
<rect x="16" y="202" width="2" height="1"/><rect x="897" y="202" width="2" height="1"/>
<rect x="16" y="215" width="2" height="1"/><rect x="897" y="215" width="2" height="1"/>
<rect x="16" y="227" width="2" height="1"/><rect x="897" y="227" width="2" height="1"/>
<rect x="16" y="239" width="2" height="1"/><rect x="897" y="239" width="2" height="1"/>
<rect x="16" y="252" width="2" height="1"/><rect x="897" y="252" width="2" height="1"/>
<rect x="16" y="264" width="2" height="1"/><rect x="897" y="264" width="2" height="1"/>
<rect x="16" y="279" width="2" height="1"/><rect x="897" y="279" width="2" height="1"/>
<rect x="16" y="291" width="2" height="1"/><rect x="897" y="291" width="2" height="1"/>
<rect x="16" y="303" width="2" height="1"/><rect x="897" y="303" width="2" height="1"/>
<rect x="16" y="316" width="2" height="1"/><rect x="897" y="316" width="2" height="1"/>
<rect x="16" y="328" width="2" height="1"/><rect x="897" y="328" width="2" height="1"/>
<rect x="16" y="341" width="2" height="1"/><rect x="897" y="341" width="2" height="1"/>
<rect x="16" y="353" width="2" height="1"/><rect x="897" y="353" width="2" height="1"/>
<rect x="16" y="365" width="2" height="1"/><rect x="897" y="365" width="2" height="1"/>
<rect x="16" y="378" width="2" height="1"/><rect x="897" y="378" width="2" height="1"/>
<rect x="16" y="390" width="2" height="1"/><rect x="897" y="390" width="2" height="1"/>
<rect x="16" y="404" width="2" height="1"/><rect x="897" y="404" width="2" height="1"/>
<rect x="16" y="416" width="2" height="1"/><rect x="897" y="416" width="2" height="1"/>
<rect x="16" y="428" width="2" height="1"/><rect x="897" y="428" width="2" height="1"/>
<rect x="16" y="441" width="2" height="1"/><rect x="897" y="441" width="2" height="1"/>
<rect x="16" y="453" width="2" height="1"/><rect x="897" y="453" width="2" height="1"/>
<rect x="16" y="466" width="2" height="1"/><rect x="897" y="466" width="2" height="1"/>
<rect x="16" y="478" width="2" height="1"/><rect x="897" y="478" width="2" height="1"/>
<rect x="16" y="490" width="2" height="1"/><rect x="897" y="490" width="2" height="1"/>
<rect x="16" y="503" width="2" height="1"/><rect x="897" y="503" width="2" height="1"/>
<rect x="16" y="515" width="2" height="1"/><rect x="897" y="515" width="2" height="1"/>
<rect x="74" y="526" width="1" height="2"/>
<rect x="148" y="526" width="1" height="2"/>
<rect x="218" y="526" width="1" height="2"/>
<rect x="292" y="526" width="1" height="2"/>
<rect x="369" y="526" width="1" height="2"/>
<rect x="439" y="526" width="1" height="2"/>
<rect x="509" y="526" width="1" height="2"/>
<rect x="586" y="526" width="1" height="2"/>
<rect x="653" y="526" width="1" height="2"/>
<rect x="730" y="526" width="1" height="2"/>
<rect x="804" y="526" width="1" height="2"/>
<rect x="874" y="526" width="1" height="2"/>
</g>
</svg>
<svg id="labels" width="980" height="560" viewBox="0 0 980 560" font-family="'Liberation Sans', Arial, sans-serif" text-rendering="geometricPrecision" stroke="#ffffff" stroke-width="0.2" stroke-linejoin="round">
<rect x="20" y="24" width="36" height="21" fill="#ffffff"/>
<text transform="translate(18.12 14) scale(0.9026 1)" font-size="16" fill="#000000">Silver</text>
<text transform="translate(58.23 14) scale(0.8759 1)" font-size="16" fill="#000000">CMX</text>
<text transform="translate(93.86 14) scale(0.91 1)" font-size="16" fill="#000000">1st</text>
<text transform="translate(116.77 14) scale(0.8929 1)" font-size="16" fill="#000000">Month</text>
<text transform="translate(160.21 14) scale(0.899 1)" font-size="16" fill="#000000">Continuation</text>
<text transform="translate(245.11 14) scale(0.8889 1)" font-size="16" fill="#000000">(SI1)</text>
<text transform="translate(280.34 14) scale(0.8842 1)" font-size="16" fill="#000000">28.065</text>
<text transform="translate(328.33 14) scale(0.8997 1)" font-size="16" fill="#0000cc" stroke="none">+0.20</text>
<text transform="translate(658.2 14) scale(0.9389 1)" font-size="16" fill="#000000">www.fullermoney.com</text>
<text transform="translate(822.97 14) scale(0.895 1)" font-size="16" fill="#000000">7</text>
<text transform="translate(835.0 14) scale(0.895 1)" font-size="16" fill="#000000">Aug</text>
<text transform="translate(864.13 14) scale(0.8941 1)" font-size="16" fill="#000000">2012</text>
<text transform="translate(899.62 34) scale(1.0182 1)" font-size="14.5" fill="#000000">45</text>
<text transform="translate(899.62 159) scale(1.0182 1)" font-size="14.5" fill="#000000">40</text>
<text transform="translate(899.62 285) scale(1.0182 1)" font-size="14.5" fill="#000000">35</text>
<text transform="translate(899.62 410) scale(1.0182 1)" font-size="14.5" fill="#000000">30</text>
<text transform="translate(60.77 540) scale(0.9673 1)" font-size="14.5" fill="#000000">Sep</text>
<text transform="translate(137.28 540) scale(0.9655 1)" font-size="14.5" fill="#000000">Oct</text>
<text transform="translate(205.41 540) scale(0.9551 1)" font-size="14.5" fill="#000000">Nov</text>
<text transform="translate(278.37 540) scale(0.9865 1)" font-size="14.5" fill="#000000">Dec</text>
<text transform="translate(354.85 540) scale(1.0016 1)" font-size="14.5" fill="#000000">2012</text>
<text transform="translate(425.31 540) scale(1.0292 1)" font-size="14.5" fill="#000000">Feb</text>
<text transform="translate(496.37 540) scale(0.9872 1)" font-size="14.5" fill="#000000">Mar</text>
<text transform="translate(575.0 540) scale(0.9207 1)" font-size="14.5" fill="#000000">Apr</text>
<text transform="translate(639.38 540) scale(0.9722 1)" font-size="14.5" fill="#000000">May</text>
<text transform="translate(718.76 540) scale(0.9672 1)" font-size="14.5" fill="#000000">Jun</text>
<text transform="translate(794.77 540) scale(0.9209 1)" font-size="14.5" fill="#000000">Jul</text>
<text transform="translate(861.4 540) scale(0.9729 1)" font-size="14.5" fill="#000000">Aug</text>
<text transform="translate(21.79 40) scale(0.9717 1)" font-size="14.5" fill="#0000cc" stroke="none">Daily</text>
<text transform="translate(759.66 555) scale(1.0807 1)" font-size="10" fill="#8c8c8c" stroke="none">&#169;</text>
<text transform="translate(769.55 555) scale(0.8941 1)" font-size="10" fill="#8c8c8c" stroke="none">2012</text>
<text transform="translate(793.34 555) scale(0.9268 1)" font-size="10" fill="#8c8c8c" stroke="none">Stockcube</text>
<text transform="translate(839.99 555) scale(0.9261 1)" font-size="10" fill="#8c8c8c" stroke="none">Research</text>
<text transform="translate(883.22 555) scale(0.8889 1)" font-size="10" fill="#8c8c8c" stroke="none">Ltd</text>
</svg>
</body>
</html>
